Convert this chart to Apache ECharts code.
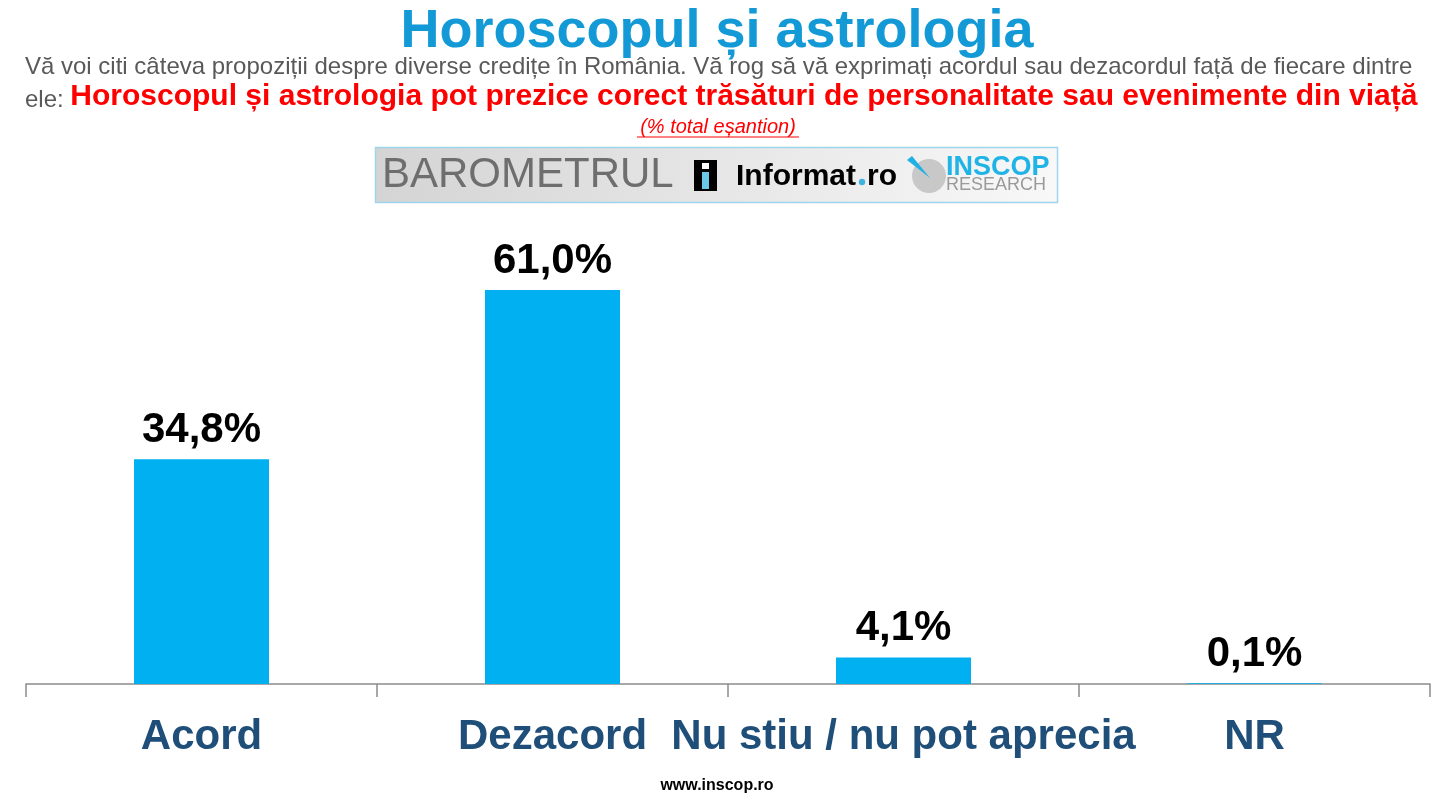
<!DOCTYPE html>
<html><head><meta charset="utf-8">
<script src="https://cdn.jsdelivr.net/npm/echarts@6/dist/echarts.min.js"></script>
<style>html,body{margin:0;padding:0;background:#fff}#c{width:1434px;height:801px}</style>
</head><body><div id="c"></div>
<script>
const categories = ['Acord', 'Dezacord', 'Nu stiu / nu pot aprecia', 'NR'];
const values = [34.8, 61.0, 4.1, 0.1];
const titleText = 'Horoscopul și astrologia';
const subLine1 = 'Vă voi citi câteva propoziții despre diverse credițe în România. Vă rog să vă exprimați acordul sau dezacordul față de fiecare dintre';
const subLine2a = 'ele: ';
const subLine2b = 'Horoscopul și astrologia pot prezice corect trăsături de personalitate sau evenimente din viață';
const sampleNote = '(% total eșantion)';
const footer = 'www.inscop.ro';

const F = 'Liberation Sans, Arial, sans-serif';
const chart = echarts.init(document.getElementById('c'));
chart.setOption({
  animation: false,
  grid: { left: 26, right: 4, top: 232, bottom: 117, containLabel: false },
  xAxis: {
    type: 'category', data: categories,
    axisLine: { lineStyle: { color: '#8c8c8c', width: 1.5 } },
    axisTick: { show: true, alignWithLabel: false, length: 13, lineStyle: { color: '#8c8c8c', width: 1.5 } },
    axisLabel: { color: '#1f4e79', fontFamily: F, fontWeight: 'bold', fontSize: 42, margin: 32, interval: 0 }
  },
  yAxis: { type: 'value', min: 0, max: 70, show: false, splitLine: { show: false } },
  series: [{
    type: 'bar', data: values, barWidth: 135,
    itemStyle: { color: '#00b0f0' },
    label: { show: true, position: 'top', distance: 8, color: '#000', fontFamily: F, fontWeight: 'bold', fontSize: 42,
      formatter: p => p.value.toFixed(1).replace('.', ',') + '%' }
  }],
  graphic: [
    { type: 'text', left: 'center', top: 5, style: { text: titleText, fill: '#139ad6', font: 'bold 54px ' + F } },
    { type: 'text', x: 25, y: 55, style: { text: subLine1, fill: '#595959', font: '24px ' + F } },
    { type: 'text', x: 25, y: 82, style: { text: '{g|' + subLine2a + '}{r|' + subLine2b + '}',
        rich: { g: { fill: '#595959', font: '24px ' + F, verticalAlign: 'bottom' }, r: { fill: '#ff0000', font: 'bold 30px ' + F, verticalAlign: 'bottom' } } } },
    { type: 'text', x: 718, y: 117, style: { text: sampleNote, fill: '#ff0000', font: 'italic 20px ' + F, align: 'center' } },
    { type: 'line', shape: { x1: 637, y1: 137, x2: 799, y2: 137 }, style: { stroke: '#ff0000', lineWidth: 1 } },
    // logo banner
    { type: 'rect', shape: { x: 375.5, y: 147.5, width: 682, height: 55 },
      style: { fill: new echarts.graphic.LinearGradient(0, 0, 1, 0, [{ offset: 0, color: '#d4d4d4' }, { offset: 1, color: '#f8f8f8' }]), stroke: '#9fd5ec', lineWidth: 1.5 } },
    { type: 'text', x: 382, y: 154, style: { text: 'BAROMETRUL', fill: '#6e6e6e', font: '300 42px ' + F } },
    { type: 'rect', shape: { x: 694, y: 160, width: 23, height: 31 }, style: { fill: '#000' } },
    { type: 'rect', shape: { x: 702, y: 163, width: 7, height: 6 }, style: { fill: '#fff' } },
    { type: 'rect', shape: { x: 702, y: 172, width: 7, height: 17 }, style: { fill: '#6cc8e8' } },
    { type: 'text', x: 736, y: 162, style: { text: 'Informat', fill: '#000', font: 'bold 30px ' + F } },
    { type: 'circle', shape: { cx: 862, cy: 182, r: 3.2 }, style: { fill: '#3db4e0' } },
    { type: 'text', x: 867, y: 162, style: { text: 'ro', fill: '#000', font: 'bold 30px ' + F } },
    { type: 'circle', shape: { cx: 929, cy: 176, r: 17 }, style: { fill: '#c8c8c8' } },
    { type: 'polygon', shape: { points: [[907, 160], [912, 156], [930, 178]] }, style: { fill: '#1fb0e4' } },
    { type: 'text', x: 946, y: 154, style: { text: 'INSCOP', fill: '#1fb3e6', font: 'bold 27px ' + F } },
    { type: 'text', x: 946, y: 176, style: { text: 'RESEARCH', fill: '#9a9a9a', font: '18px ' + F } },
    { type: 'text', left: 'center', top: 778, style: { text: footer, fill: '#000', font: 'bold 16px ' + F } }
  ]
});
</script></body></html>
